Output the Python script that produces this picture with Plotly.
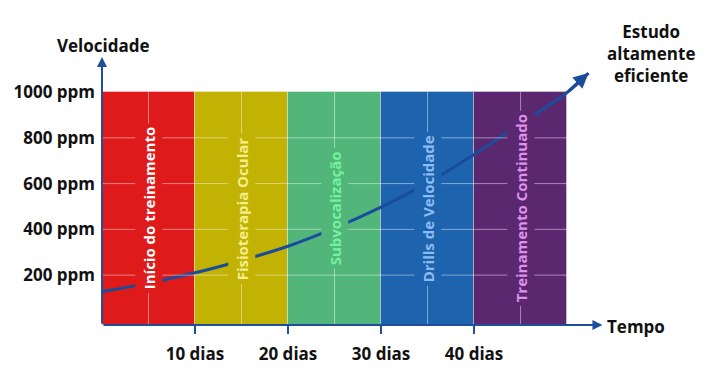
import plotly.graph_objects as go

# ---- data ----
phases = ["Início do treinamento", "Fisioterapia Ocular", "Subvocalização",
          "Drills de Velocidade", "Treinamento Continuado"]
phase_centers = [5, 15, 25, 35, 45]
phase_width = 10
phase_top = [1000, 1000, 1000, 1000, 1000]
bar_colors = ["#df1a1a", "#c1b203", "#52b67a", "#1e63ae", "#5b276f"]
label_colors = ["#ffffff", "#f6ee8c", "#74f29e", "#8dbcf2", "#dc92ec"]

curve_x = [0, 5, 10, 15, 20, 25, 30, 35, 40, 45, 50, 52.3]
curve_y = [128, 165, 210, 264, 326, 405, 497, 603, 727, 862, 998, 1083]

x_tick_vals = [10, 20, 30, 40]
x_tick_text = ["10 dias", "20 dias", "30 dias", "40 dias"]
y_tick_vals = [200, 400, 600, 800, 1000]
y_tick_text = ["200 ppm", "400 ppm", "600 ppm", "800 ppm", "1000 ppm"]
grid_x = [5, 15, 25, 35, 45]
grid_y = [200, 400, 600, 800]

Y_MIN = -18
Y_MAX = 1162
X_MAX = 58.7
AX_COLOR = "#1f4e9c"
FONT = "Open Sans"

fig = go.Figure()

fig.add_trace(go.Bar(
    x=phase_centers, y=[t - Y_MIN for t in phase_top], base=Y_MIN,
    width=phase_width, marker=dict(color=bar_colors,
                                   line=dict(color="rgba(255,255,255,0.35)", width=1)),
    hoverinfo="skip", showlegend=False))

fig.add_trace(go.Scatter(
    x=curve_x, y=curve_y, mode="lines", line=dict(color="#1a4c9c", width=3, shape="spline"),
    hoverinfo="skip", showlegend=False))

shapes = []
for gx in grid_x:
    shapes.append(dict(type="line", xref="x", yref="y", x0=gx, x1=gx, y0=Y_MIN, y1=1000,
                       line=dict(color="rgba(255,255,255,0.45)", width=1), layer="above"))
for gy in grid_y:
    shapes.append(dict(type="line", xref="x", yref="y", x0=0, x1=50, y0=gy, y1=gy,
                       line=dict(color="rgba(255,255,255,0.45)", width=1), layer="above"))

annotations = []
for name, cx, bc, lc in zip(phases, phase_centers, bar_colors, label_colors):
    annotations.append(dict(x=cx, y=490, xref="x", yref="y", text=name, showarrow=False,
                            textangle=-90, bgcolor=bc, borderpad=3,
                            font=dict(family=FONT, size=15, color=lc, weight="bold")))

# axis arrows
annotations.append(dict(x=0, y=1153, xref="x", yref="y", ax=0, ay=Y_MIN, axref="x", ayref="y",
                        text="", showarrow=True, arrowhead=2, arrowsize=1, arrowwidth=2,
                        arrowcolor=AX_COLOR, standoff=0))
annotations.append(dict(x=53.8, y=Y_MIN, xref="x", yref="y", ax=0, ay=Y_MIN, axref="x", ayref="y",
                        text="", showarrow=True, arrowhead=2, arrowsize=1, arrowwidth=2,
                        arrowcolor=AX_COLOR, standoff=0))
# curve arrow head
annotations.append(dict(x=curve_x[-1], y=curve_y[-1], xref="x", yref="y",
                        ax=curve_x[-2], ay=curve_y[-2], axref="x", ayref="y",
                        text="", showarrow=True, arrowhead=2, arrowsize=1, arrowwidth=3,
                        arrowcolor="#1a4c9c", standoff=0))

bold = dict(family=FONT, size=17, color="#111111", weight="bold")
annotations.append(dict(x=103, y=392 - 45, xref="paper", yref="paper", text="Velocidade",
                        showarrow=False, font=bold, xanchor="center", yanchor="middle"))
annotations.append(dict(x=605, y=392 - 326, xref="paper", yref="paper", text="Tempo",
                        showarrow=False, font=bold, xanchor="left", yanchor="middle"))
annotations.append(dict(x=651, y=392 - 53, xref="paper", yref="paper",
                        text="Estudo<br>altamente<br>eficiente",
                        showarrow=False, font=bold, align="center",
                        xanchor="center", yanchor="middle"))

# convert paper-pixel annotations to paper fractions
L, R, T, B = 102, 708 - 102 - 546, 55, 67
pw, ph = 708 - L - R, 392 - T - B
for a in annotations:
    if a.get("xref") == "paper":
        a["x"] = (a["x"] - L) / pw
        a["y"] = (a["y"] - B) / ph

fig.update_layout(
    width=708, height=392,
    margin=dict(l=L, r=R, t=T, b=B, autoexpand=False),
    paper_bgcolor="white", plot_bgcolor="white",
    bargap=0,
    shapes=shapes, annotations=annotations,
    xaxis=dict(range=[0, X_MAX], showgrid=False, zeroline=False, showline=False,
               automargin=False,
               tickvals=x_tick_vals, ticktext=x_tick_text, ticks="outside", ticklen=8,
               tickwidth=2, tickcolor=AX_COLOR, ticklabelstandoff=6,
               tickfont=dict(family=FONT, size=17, color="#111111", weight="bold")),
    yaxis=dict(range=[Y_MIN, Y_MAX], showgrid=False, zeroline=False, showline=False,
               automargin=False,
               tickvals=y_tick_vals, ticktext=y_tick_text, ticks="", ticklabelstandoff=6,
               tickfont=dict(family=FONT, size=17, color="#111111", weight="bold")),
)

fig.write_html("out.html", config={"displayModeBar": False},
               post_script="document.body.style.margin='0px';document.body.style.overflow='hidden';")
